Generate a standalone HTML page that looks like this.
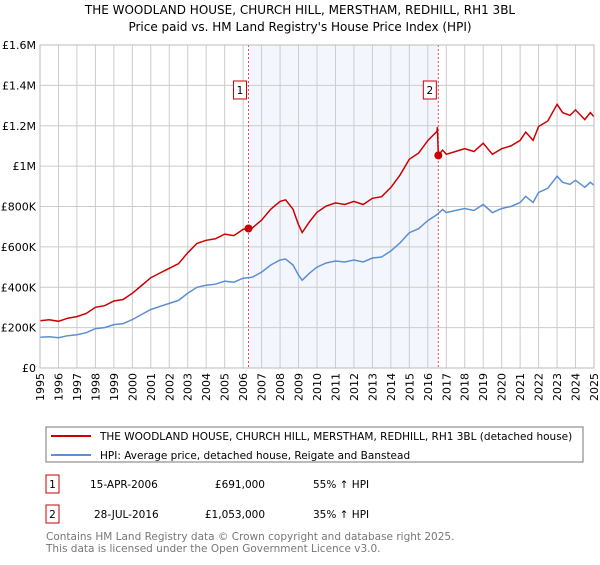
<!DOCTYPE html>
<html><head><meta charset="utf-8"><style>
body{margin:0;background:#fff;font-family:"Liberation Sans","DejaVu Sans",sans-serif;}
svg text{font-family:"DejaVu Sans","Liberation Sans",sans-serif;}
</style></head><body>
<svg id="c" width="600" height="560" viewBox="0 0 600 560" xmlns="http://www.w3.org/2000/svg">
<text x="300" y="14" text-anchor="middle" font-size="12">THE WOODLAND HOUSE, CHURCH HILL, MERSTHAM, REDHILL, RH1 3BL</text>
<text x="300" y="31" text-anchor="middle" font-size="12">Price paid vs. HM Land Registry's House Price Index (HPI)</text>
<g id="grid"></g><g id="series"></g><g id="axes"></g>
<rect x="46" y="427" width="537" height="35" fill="#fff" stroke="#777"/>
<line x1="51" y1="436" x2="91" y2="436" stroke="#cc0000" stroke-width="2"/>
<text x="100" y="440" font-size="10.5">THE WOODLAND HOUSE, CHURCH HILL, MERSTHAM, REDHILL, RH1 3BL (detached house)</text>
<line x1="51" y1="455" x2="91" y2="455" stroke="#5b8fd4" stroke-width="2"/>
<text x="100" y="459" font-size="10.5">HPI: Average price, detached house, Reigate and Banstead</text>
<g font-size="10.5">
<rect x="46" y="475" width="13" height="18" fill="#fff" stroke="#cc0000"/><text x="52.5" y="488" text-anchor="middle">1</text>
<text x="90" y="488">15-APR-2006</text><text x="265" y="488" text-anchor="end">£691,000</text><text x="313" y="488">55% ↑ HPI</text>
<rect x="46" y="505" width="13" height="18" fill="#fff" stroke="#cc0000"/><text x="52.5" y="518" text-anchor="middle">2</text>
<text x="94" y="518">28-JUL-2016</text><text x="265" y="518" text-anchor="end">£1,053,000</text><text x="313" y="518">35% ↑ HPI</text>
</g>
<text x="46" y="540" font-size="10.5" fill="#777">Contains HM Land Registry data © Crown copyright and database right 2025.</text>
<text x="46" y="552" font-size="10.5" fill="#777">This data is licensed under the Open Government Licence v3.0.</text>
</svg>
<script>
const hpiYears=[1995,1995.5,1996,1996.5,1997,1997.5,1998,1998.5,1999,1999.5,2000,2000.5,2001,2001.5,2002,2002.5,2003,2003.5,2004,2004.5,2005,2005.5,2006,2006.5,2007,2007.5,2008,2008.3,2008.7,2009,2009.2,2009.6,2010,2010.5,2011,2011.5,2012,2012.5,2013,2013.5,2014,2014.5,2015,2015.5,2016,2016.5,2016.8,2017,2017.5,2018,2018.5,2019,2019.5,2020,2020.5,2021,2021.3,2021.7,2022,2022.5,2023,2023.3,2023.7,2024,2024.5,2024.8,2025];
const hpiValues=[152,155,150,160,165,175,195,200,215,220,240,265,290,305,320,335,370,400,410,415,430,425,445,450,475,510,535,540,510,460,435,470,500,520,530,525,535,525,545,550,580,620,670,690,730,760,785,770,780,790,780,810,770,790,800,820,850,820,870,890,950,920,910,930,895,920,905];
const saleYears=[2006.29,2016.57];
const salePrices=[691,1053];
const saleLabels=["1","2"];
const yTicks=[0,200,400,600,800,1000,1200,1400,1600];
const yTickLabels=["£0","£200K","£400K","£600K","£800K","£1M","£1.2M","£1.4M","£1.6M"];
const xTicks=[1995,1996,1997,1998,1999,2000,2001,2002,2003,2004,2005,2006,2007,2008,2009,2010,2011,2012,2013,2014,2015,2016,2017,2018,2019,2020,2021,2022,2023,2024,2025];
const L=40,R=594,T=45,B=368;
const X=y=>L+(y-1995)/30*(R-L), Y=v=>B-v/1600*(B-T);
const NS="http://www.w3.org/2000/svg";
function mk(p,t,a){const e=document.createElementNS(NS,t);for(const k in a)e.setAttribute(k,a[k]);document.getElementById(p).appendChild(e);return e;}
const g='grid';
let sh=mk(g,'rect',{x:X(saleYears[0]),y:T,width:X(saleYears[1])-X(saleYears[0]),height:B-T,fill:'#eef3fc',opacity:0.7});


xTicks.forEach(t=>{const l=mk(g,'line',{x1:X(t),x2:X(t),y1:T,y2:B,stroke:'#ccc'});


const tx=mk('axes','text',{x:0,y:0,'font-size':11,'text-anchor':'end',transform:`translate(${X(t)+4},${B+5}) rotate(-90)`});tx.textContent=t;

});
yTicks.forEach((t,i)=>{const l=mk(g,'line',{x1:L,x2:R,y1:Y(t),y2:Y(t),stroke:'#ccc'});


const tx=mk('axes','text',{x:L-4,y:Y(t)+4,'font-size':11,'text-anchor':'end'});tx.textContent=yTickLabels[i];

});
saleYears.forEach((s,i)=>{const l=mk(g,'line',{x1:X(s),x2:X(s),y1:T,y2:B,stroke:'#e05050','stroke-dasharray':'2,2'});


const r=mk('axes','rect',{x:X(s)-15,y:81,width:13,height:18,fill:'#fff',stroke:'#cc0000'});


const tx=mk('axes','text',{x:X(s)-8.5,y:94,'font-size':10.5,'text-anchor':'middle'});tx.textContent=saleLabels[i];

});
// property series: HPI scaled to each sale
const hpiAt=y=>{for(let i=1;i<hpiYears.length;i++)if(y<=hpiYears[i]){const f=(y-hpiYears[i-1])/(hpiYears[i]-hpiYears[i-1]);return hpiValues[i-1]+f*(hpiValues[i]-hpiValues[i-1]);}return hpiValues[hpiValues.length-1];};
const r1=salePrices[0]/hpiAt(saleYears[0]),r2=salePrices[1]/hpiAt(saleYears[1]);
let hp='',pp='';
hpiYears.forEach((y,i)=>{hp+=(i?'L':'M')+X(y).toFixed(1)+','+Y(hpiValues[i]).toFixed(1);});
let pts=[];hpiYears.forEach((y,i)=>{if(y<saleYears[1])pts.push([y,hpiValues[i]*r1]);});
pts.push([saleYears[1]-0.05,hpiAt(saleYears[1])*r1*1.01]);pts.push([saleYears[1],salePrices[1]]);
hpiYears.forEach((y,i)=>{if(y>saleYears[1])pts.push([y,hpiValues[i]*r2]);});
pts.forEach((p,i)=>{pp+=(i?'L':'M')+X(p[0]).toFixed(1)+','+Y(p[1]).toFixed(1);});
const hl=mk('series','path',{d:hp,fill:'none',stroke:'#5b8fd4','stroke-width':1.5});


const pl=mk('series','path',{d:pp,fill:'none',stroke:'#cc0000','stroke-width':1.5});


saleYears.forEach((s,i)=>{const c=mk('series','circle',{cx:X(s),cy:Y(salePrices[i]),r:4,fill:'#cc0000'});

});
const ax=mk('axes','rect',{x:L,y:T,width:R-L,height:B-T,fill:'none',stroke:'#bbb'});


</script>
</body></html>
